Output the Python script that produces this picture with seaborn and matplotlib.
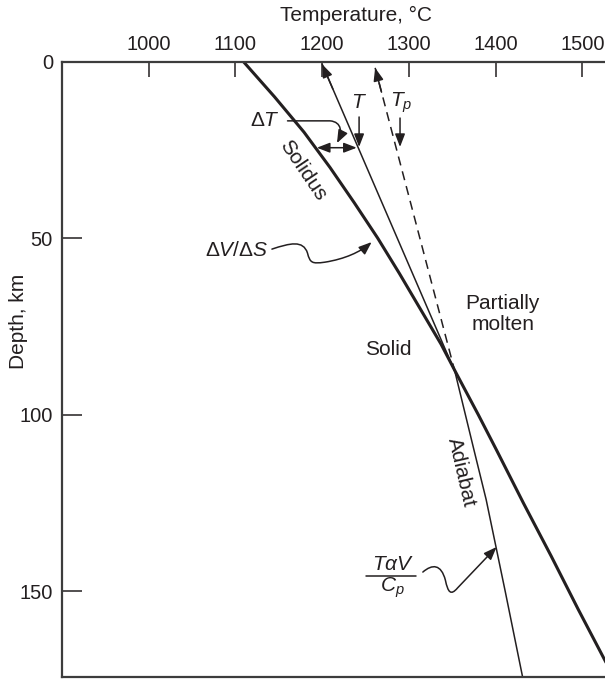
import matplotlib
matplotlib.use("Agg")
import matplotlib.pyplot as plt
from matplotlib.path import Path
from matplotlib.patches import FancyArrowPatch
import pandas as pd
import seaborn as sns

# ----- DATA (temperature in deg C, depth in km) -----
solidus_depth = [0, 5, 10, 15, 20, 25, 30, 40, 50, 60, 70, 80, 88, 100, 110, 125, 140, 155, 170, 175]
solidus_temp = [1109, 1127, 1145, 1162, 1179, 1194, 1209, 1237, 1264, 1289, 1313, 1337, 1354,
                1380, 1401, 1432, 1464, 1495, 1527, 1537]

adiabat_depth = [0.8, 87.8, 110, 124, 150, 174.2]
adiabat_temp = [1200, 1353, 1375, 1389, 1411, 1431]

potential_depth = [1.8, 87.8]
potential_temp = [1261, 1353]

temp_ticks = [1000, 1100, 1200, 1300, 1400, 1500]
depth_ticks = [0, 50, 100, 150]

# curly pointer from the dV/dS label to the solidus (bezier nodes, data coords)
dvds_curve_temp = [1142, 1163, 1178, 1183, 1186, 1188, 1203, 1226, 1244, 1257]
dvds_curve_depth = [53.1, 51.4, 50.5, 54.2, 57.0, 57.3, 56.8, 55.9, 53.9, 51.1]

# curly pointer from the T*alpha*V/Cp label to the adiabat
tav_curve_temp = [1316, 1327, 1337, 1342, 1345, 1348, 1356, 1401]
tav_curve_depth = [144.5, 142.2, 142.2, 146.8, 150.2, 151.3, 149.0, 137.4]

# bent pointer from the Delta T label
dt_curve_temp = [1160, 1209, 1223, 1223, 1217]
dt_curve_depth = [16.8, 16.8, 17.1, 20.2, 23.1]

# ----- STYLE -----
sns.set_theme(style="white")
plt.rcParams["font.family"] = ["Liberation Sans", "DejaVu Sans"]
plt.rcParams["mathtext.fontset"] = "custom"
plt.rcParams["mathtext.rm"] = "Liberation Sans"
plt.rcParams["mathtext.it"] = "Liberation Sans:italic"
plt.rcParams["mathtext.bf"] = "Liberation Sans:bold"

ink = "#231f20"
fs = 14.5

fig = plt.figure(figsize=(6.05, 6.79), dpi=100)
ax = fig.add_axes([62 / 605, 2 / 679, 543 / 605, 615.5 / 679])

solidus = pd.DataFrame({"temp": solidus_temp, "depth": solidus_depth})
adiabat = pd.DataFrame({"temp": adiabat_temp, "depth": adiabat_depth})
potential = pd.DataFrame({"temp": potential_temp, "depth": potential_depth})

sns.lineplot(data=solidus, x="temp", y="depth", sort=False, estimator=None,
             color=ink, linewidth=2.2, ax=ax)
sns.lineplot(data=adiabat, x="temp", y="depth", sort=False, estimator=None,
             color=ink, linewidth=1.1, ax=ax)
sns.lineplot(data=potential, x="temp", y="depth", sort=False, estimator=None,
             color=ink, linewidth=1.1, linestyle=(0, (6, 4)), ax=ax)

head = "-|>,head_length=0.65,head_width=0.25"

# arrowheads at the surface ends of T and Tp
for temps, depths in [(adiabat_temp, adiabat_depth), (potential_temp, potential_depth)]:
    frac = 0.08
    back_t = temps[0] + (temps[1] - temps[0]) * frac
    back_d = depths[0] + (depths[1] - depths[0]) * frac
    ax.annotate("", xy=(temps[0], depths[0]), xytext=(back_t, back_d),
                arrowprops=dict(arrowstyle=head, color=ink, lw=1.1,
                                shrinkA=0, shrinkB=0, mutation_scale=12))

# ----- AXES -----
ax.set_xlim(900, 1526)
ax.set_ylim(174.2, 0)
ax.set_xticks(temp_ticks)
ax.set_yticks(depth_ticks)
ax.xaxis.tick_top()
ax.xaxis.set_label_position("top")
ax.tick_params(axis="x", direction="in", length=10.8, width=1.1, pad=5.5,
               labelsize=fs, colors=ink, top=True, bottom=False)
ax.tick_params(axis="y", direction="in", length=14.4, width=1.1, pad=6.5,
               labelsize=fs, colors=ink, left=True)
for side in ["left", "top", "bottom"]:
    ax.spines[side].set_color("#3c3c3c")
    ax.spines[side].set_linewidth(1.6)
ax.spines["right"].set_visible(False)

ax.set_xlabel("Temperature, °C", fontsize=15, color=ink)
ax.xaxis.set_label_coords(0.541, 1.0747)
ax.xaxis.label.set_va("center")
ax.set_ylabel("Depth, km", fontsize=15, color=ink)
ax.yaxis.set_label_coords(-0.081, 0.578)
ax.yaxis.label.set_va("center")
ax.yaxis.label.set_ha("center")

# ----- ANNOTATIONS -----
tfs = 15
ax.text(1242.5, 11.7, "$T$", fontsize=tfs, color=ink, ha="center", va="center")
ax.text(1291, 11.7, "$T_p$", fontsize=tfs, color=ink, ha="center", va="center")
ax.annotate("", xy=(1242.5, 24.2), xytext=(1242.5, 15.7),
            arrowprops=dict(arrowstyle=head, color=ink, lw=1.1, shrinkA=0, shrinkB=0,
                            mutation_scale=12))
ax.annotate("", xy=(1289.7, 24.2), xytext=(1289.7, 16.0),
            arrowprops=dict(arrowstyle=head, color=ink, lw=1.1, shrinkA=0, shrinkB=0,
                            mutation_scale=12))

ax.text(1134, 16.6, r"$\Delta T$", fontsize=tfs, color=ink, ha="center", va="center")
dt_codes = [Path.MOVETO, Path.LINETO, Path.CURVE4, Path.CURVE4, Path.CURVE4]
ax.add_patch(FancyArrowPatch(path=Path(list(zip(dt_curve_temp, dt_curve_depth)), dt_codes),
                             arrowstyle=head, color=ink, lw=1.1, mutation_scale=12))
ax.annotate("", xy=(1193.8, 24.4), xytext=(1239.8, 24.4),
            arrowprops=dict(arrowstyle="<|-|>,head_length=0.65,head_width=0.25", color=ink,
                            lw=1.1, shrinkA=0, shrinkB=0, mutation_scale=12))

ax.text(1178, 30.7, "Solidus", fontsize=tfs, color=ink, rotation=-56,
        ha="center", va="center", rotation_mode="anchor")

ax.text(1138, 53.4, r"$\Delta V/\Delta S$", fontsize=tfs, color=ink, ha="right", va="center")
curve_codes = [Path.MOVETO] + [Path.CURVE4] * 9
ax.add_patch(FancyArrowPatch(path=Path(list(zip(dvds_curve_temp, dvds_curve_depth)), curve_codes),
                             arrowstyle=head, color=ink, lw=1.1, mutation_scale=12))

ax.text(1408, 71.5, "Partially\nmolten", fontsize=tfs, color=ink, ha="center",
        va="center", linespacing=1.1)
ax.text(1276, 81.4, "Solid", fontsize=tfs, color=ink, ha="center", va="center")
ax.text(1359.8, 116.2, "Adiabat", fontsize=tfs, color=ink, rotation=-77,
        ha="center", va="center", rotation_mode="anchor")

ax.text(1282, 142.3, r"$T\alpha V$", fontsize=tfs, color=ink, ha="center", va="center")
ax.plot([1250.5, 1308], [145.6, 145.6], color=ink, lw=1.1)
ax.text(1281, 148.9, r"$C_p$", fontsize=tfs, color=ink, ha="center", va="center")
tav_codes = [Path.MOVETO] + [Path.CURVE4] * 6 + [Path.LINETO]
ax.add_patch(FancyArrowPatch(path=Path(list(zip(tav_curve_temp, tav_curve_depth)), tav_codes),
                             arrowstyle=head, color=ink, lw=1.1, mutation_scale=12))

fig.savefig("out.png", dpi=100)
